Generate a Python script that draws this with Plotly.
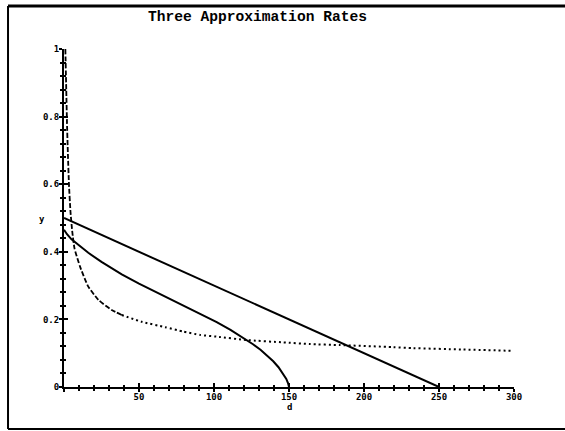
import plotly.graph_objects as go

# ---- data ----
d_linear = [0, 250]
y_linear = [0.5, 0.0]

d_curve = [0, 2, 5, 10, 16.2, 25, 38.5, 50, 60.7, 70, 79.5, 90, 101.8, 111, 119.5, 126, 131,
           135.5, 139.5, 143, 146, 148.2, 149.4, 150]
y_curve = [0.465, 0.452, 0.437, 0.418, 0.397, 0.370, 0.333, 0.306, 0.2825, 0.263, 0.243, 0.220,
           0.192, 0.169, 0.146, 0.1265, 0.110, 0.093, 0.076, 0.0585, 0.0405, 0.024, 0.011, 0.0]

d_dotted = [0.9, 1.5, 2.0, 2.6, 3.3, 4.3, 5.5, 7.0, 10.7, 16.2, 22.9, 31.8, 38.5,
            51.8, 67.3, 79.5, 90.7, 101.8, 121.8, 146.2, 164, 184, 219.5, 232.9, 265, 299.5]
y_dotted = [1.0, 0.88, 0.78, 0.69, 0.60, 0.52, 0.46, 0.41, 0.356, 0.297, 0.258, 0.228, 0.213,
            0.193, 0.177, 0.164, 0.154, 0.149, 0.139, 0.132, 0.127, 0.124, 0.118, 0.115, 0.111, 0.107]

x_ticks = [0, 50, 100, 150, 200, 250, 300]
x_labels = ["", "50", "100", "150", "200", "250", "300"]
y_ticks = [0, 0.2, 0.4, 0.6, 0.8, 1.0]
y_labels = ["0", "0.2", "0.4", "0.6", "0.8", "1"]

title_text = "Three Approximation Rates"
x_title = "d"
y_title = "y"

split = 13  # dashed part of the dotted series / dotted remainder

fig = go.Figure()
fig.add_trace(go.Scatter(x=d_linear, y=y_linear, mode="lines",
                         line=dict(color="black", width=2), showlegend=False))
fig.add_trace(go.Scatter(x=d_curve, y=y_curve, mode="lines",
                         line=dict(color="black", width=2), showlegend=False))
fig.add_trace(go.Scatter(x=d_dotted[:split], y=y_dotted[:split], mode="lines",
                         line=dict(color="black", width=1.8, dash="5px,2px", shape="spline", smoothing=0.5),
                         showlegend=False))
fig.add_trace(go.Scatter(x=d_dotted[split - 1:], y=y_dotted[split - 1:], mode="lines",
                         line=dict(color="black", width=2, dash="2px,3px", shape="spline", smoothing=0.5),
                         showlegend=False))
# invisible trace to activate overlay axes (for crossing ticks)
fig.add_trace(go.Scatter(x=d_linear, y=y_linear, xaxis="x2", yaxis="y2", mode="lines",
                         line=dict(color="rgba(0,0,0,0)", width=0), showlegend=False, hoverinfo="skip"))

tick_font = dict(family="DejaVu Sans Mono", size=9, color="black", weight="bold")

fig.update_layout(
    width=565, height=431,
    margin=dict(l=64, r=51, t=49, b=44),
    paper_bgcolor="white", plot_bgcolor="white",
    xaxis=dict(range=[0, 300], showline=True, linewidth=2, linecolor="black",
               showgrid=False, zeroline=False,
               ticks="outside", ticklen=3, tickwidth=1.5, tickcolor="black",
               tickvals=x_ticks, ticktext=x_labels, tickfont=tick_font, ticklabelstandoff=-3,
               minor=dict(ticks="outside", dtick=10, tick0=0, ticklen=2, tickwidth=1.5, tickcolor="black",
                          showgrid=False)),
    yaxis=dict(range=[0, 1], showline=True, linewidth=2, linecolor="black",
               showgrid=False, zeroline=False,
               ticks="outside", ticklen=3, tickwidth=1.5, tickcolor="black",
               tickvals=y_ticks, ticktext=y_labels, tickfont=tick_font, ticklabelstandoff=-2,
               minor=dict(ticks="outside", dtick=0.04, tick0=0, ticklen=2, tickwidth=1.5, tickcolor="black",
                          showgrid=False)),
    xaxis2=dict(range=[0, 300], overlaying="x", anchor="y2", side="bottom",
                showline=False, showgrid=False, zeroline=False, showticklabels=False,
                ticks="inside", ticklen=4, tickwidth=1.5, tickcolor="black", tickvals=x_ticks,
                minor=dict(ticks="inside", dtick=10, tick0=0, ticklen=2, tickwidth=1.5, tickcolor="black",
                           showgrid=False)),
    yaxis2=dict(range=[0, 1], overlaying="y", anchor="x2", side="left",
                showline=False, showgrid=False, zeroline=False, showticklabels=False,
                ticks="inside", ticklen=4, tickwidth=1.5, tickcolor="black", tickvals=y_ticks,
                minor=dict(ticks="inside", dtick=0.04, tick0=0, ticklen=2, tickwidth=1.5, tickcolor="black",
                           showgrid=False)),
    annotations=[
        dict(text=title_text, xref="paper", yref="paper", x=0.431, y=1.094,
             xanchor="center", yanchor="middle", showarrow=False,
             font=dict(family="Liberation Mono", size=14.6, color="black", weight="bold")),
        dict(text=x_title, xref="paper", yref="paper", x=0.5, y=-0.058,
             xanchor="center", yanchor="middle", showarrow=False, font=tick_font),
        dict(text=y_title, xref="paper", yref="paper", x=-0.05, y=0.497,
             xanchor="center", yanchor="middle", showarrow=False, font=tick_font),
    ],
    shapes=[
        dict(type="line", xref="paper", yref="paper", x0=-0.1244, x1=1.12, y0=1.1272, y1=1.1272,
             line=dict(color="black", width=3)),
        dict(type="line", xref="paper", yref="paper", x0=-0.1244, x1=-0.1244, y0=1.1272, y1=-0.1243,
             line=dict(color="black", width=2)),
        dict(type="line", xref="paper", yref="paper", x0=-0.1244, x1=1.12, y0=-0.1243, y1=-0.1243,
             line=dict(color="black", width=2)),
    ],
)

fig.write_html("out.html", config={"displayModeBar": False},
               post_script="document.body.style.margin='0px';document.body.style.overflow='hidden';")
